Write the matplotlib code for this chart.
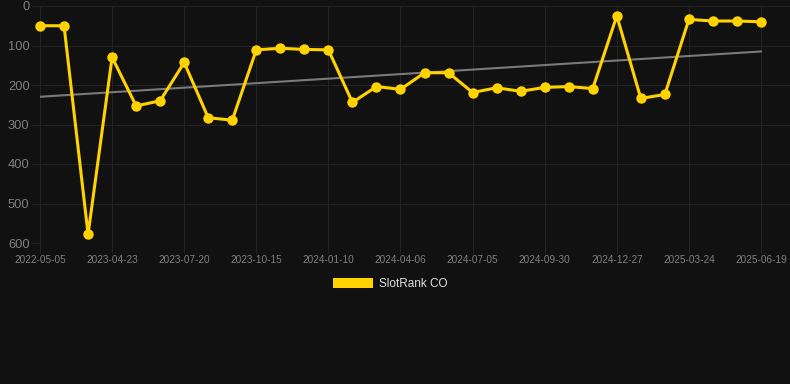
import matplotlib
matplotlib.use('Agg')
import matplotlib.pyplot as plt
from matplotlib.patches import Patch
import numpy as np

plt.rcParams['font.family'] = ['Liberation Sans', 'DejaVu Sans']

# rank per snapshot (lower is better, axis is inverted)
ranks = [50, 50, 578, 130, 253, 240, 143, 283, 289, 111, 107, 110, 111, 244, 204,
         211, 169, 169, 219, 207, 216, 206, 204, 209, 25, 234, 224, 34, 38, 38, 40]
tick_labels = ['2022-05-05', '2023-04-23', '2023-07-20', '2023-10-15', '2024-01-10',
               '2024-04-06', '2024-07-05', '2024-09-30', '2024-12-27', '2025-03-24',
               '2025-06-19']
y_ticks = [0, 100, 200, 300, 400, 500, 600]
series_name = 'SlotRank CO'

bg = '#111111'
grid_col = '#232323'
text_col = '#808080'
gold = '#FFD200'

x = np.arange(len(ranks))
slope, intercept = np.polyfit(x, ranks, 1)

fig = plt.figure(figsize=(7.9, 3.84), dpi=100, facecolor=bg)
ax = fig.add_axes([40 / 790, 1 - 243 / 384, 750 / 790, 237 / 384])
ax.set_facecolor(bg)

ax.plot(x, slope * x + intercept, color='#7a7a7a', linewidth=1.5, zorder=2)
ax.plot(x, ranks, color=gold, linewidth=2.2, marker='o', markersize=7.5,
        markeredgewidth=0, solid_joinstyle='miter', clip_on=False, zorder=3)

ax.set_xlim(0, 30 + 29 / 24.03)
ax.set_ylim(600, 0)
ax.set_yticks(y_ticks)
ax.set_xticks(x[::3])
ax.set_xticklabels(tick_labels)

for s in ax.spines.values():
    s.set_visible(False)
ax.grid(True, color=grid_col, linewidth=0.75)
ax.tick_params(axis='x', colors=grid_col, labelcolor=text_col, length=7, width=0.75,
               pad=1.5, labelsize=7.2)
ax.tick_params(axis='y', colors=grid_col, labelcolor=text_col, length=6, width=0.75,
               pad=1.5, labelsize=9.3)

fig.legend(handles=[Patch(facecolor=gold, edgecolor='none', label=series_name)],
           loc='center', bbox_to_anchor=(390 / 790, 1 - 284 / 384), frameon=False,
           fontsize=8.5, labelcolor='#e0e0e0', handlelength=3.4, handleheight=1.0,
           handletextpad=0.5)

fig.savefig('out.png', dpi=100, facecolor=bg)
